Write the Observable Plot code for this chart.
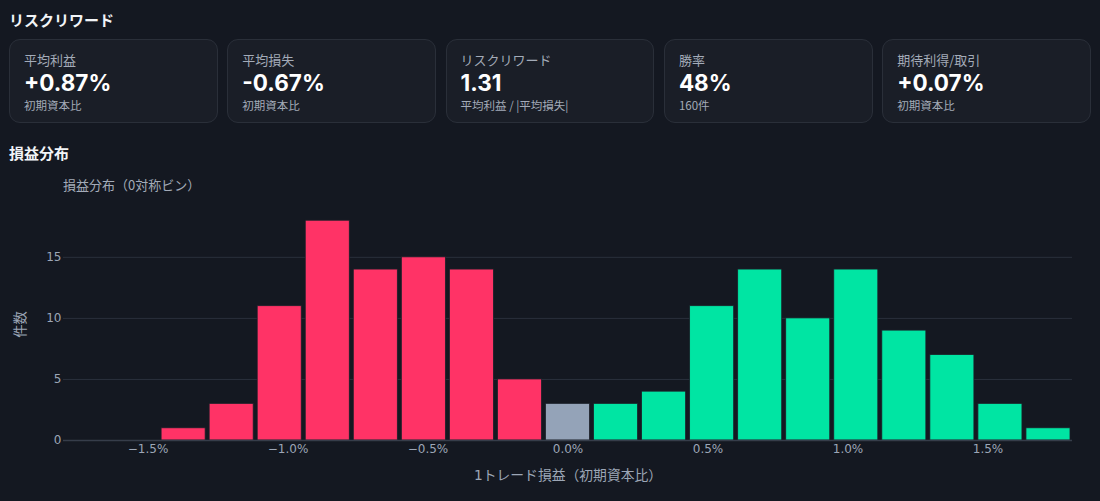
<!DOCTYPE html>
<html>
<head>
<meta charset="utf-8">
<script src="https://cdn.jsdelivr.net/npm/d3@7"></script>
<script src="https://cdn.jsdelivr.net/npm/@observablehq/plot@0.6"></script>
<style>
  html, body { margin: 0; padding: 0; background: #141821; width: 1100px; height: 501px; overflow: hidden; }
  body { font-family: Inter, "Noto Sans CJK JP", sans-serif; color: #e8ebf0; }
  .h { margin: 0; padding-left: 9px; font-size: 15px; font-weight: 700; line-height: 24px; color: #f2f4f7; font-family: "Noto Sans CJK JP", sans-serif; }
  #title { margin-top: 8px; }
  #cards { display: grid; grid-template-columns: repeat(5, 1fr); gap: 9.5px; padding: 0 9px; margin-top: 7px; }
  .card { box-sizing: border-box; height: 84px; background: #1a1e27; border: 1px solid #2a2f39; border-radius: 11px; padding: 11px 0 0 14px; }
  .lab { font-size: 13px; line-height: 18px; color: #a3abb8; font-family: "Noto Sans CJK JP", sans-serif; }
  .val { font-size: 22.5px; line-height: 28px; font-weight: 700; color: #ffffff; font-family: Inter, sans-serif; }
  .sub { font-size: 11.5px; line-height: 16px; color: #a3abb8; font-family: "Noto Sans CJK JP", sans-serif; }
  #sec { margin-top: 18px; }
  #subtitle { margin-top: 11px; padding-left: 63px; font-size: 13px; line-height: 18px; color: #a3abb8; font-family: "Noto Sans CJK JP", sans-serif; }
  #chart svg { display: block; }
</style>
</head>
<body>
<div class="h" id="title">リスクリワード</div>
<div id="cards"></div>
<div class="h" id="sec">損益分布</div>
<div id="subtitle">損益分布（0対称ビン）</div>
<div id="chart"></div>
<script>
// KPI cards
const cardLabels = ["平均利益", "平均損失", "リスクリワード", "勝率", "期待利得/取引"];
const cardValues = ["+0.87%", "-0.67%", "1.31", "48%", "+0.07%"];
const cardSubs = ["初期資本比", "初期資本比", "平均利益 / |平均損失|", "160件", "初期資本比"];

// Histogram (bins symmetric around 0, width in % of initial capital)
const binWidth = 0.1716;
const binIndex = [-8, -7, -6, -5, -4, -3, -2, -1, 0, 1, 2, 3, 4, 5, 6, 7, 8, 9, 10];
const binCounts = [1, 3, 11, 18, 14, 15, 14, 5, 3, 3, 4, 11, 14, 10, 14, 9, 7, 3, 1];
const xTicks = [-1.5, -1.0, -0.5, 0.0, 0.5, 1.0, 1.5];
const yTicks = [0, 5, 10, 15];

const cards = document.getElementById("cards");
cardLabels.forEach((l, i) => {
  const c = document.createElement("div");
  c.className = "card";
  c.innerHTML = `<div class="lab"></div><div class="val"></div><div class="sub"></div>`;
  c.querySelector(".lab").textContent = l;
  c.querySelector(".val").textContent = cardValues[i];
  c.querySelector(".sub").textContent = cardSubs[i];
  cards.appendChild(c);
});

const bins = binIndex.map((k, i) => ({
  x1: (k - 0.5) * binWidth,
  x2: (k + 0.5) * binWidth,
  count: binCounts[i],
  kind: k < 0 ? "loss" : k === 0 ? "zero" : "profit"
}));

const fmt = d => (d < 0 ? "\u2212" : "") + Math.abs(d).toFixed(1) + "%";

const chart = Plot.plot({
  width: 1100,
  height: 307,
  marginLeft: 63,
  marginRight: 28,
  marginTop: 14,
  marginBottom: 61,
  style: { background: "transparent", color: "#9ca6b6", fontSize: "12px", fontFamily: "'DejaVu Sans', 'Noto Sans CJK JP', sans-serif" },
  x: { domain: [-10.5 * binWidth, 10.5 * binWidth] },
  y: { domain: [0, 19] },
  color: { domain: ["loss", "zero", "profit"], range: ["#ff3366", "#94a3b8", "#00e5a3"] },
  marks: [
    Plot.ruleY(yTicks.filter(d => d > 0), { stroke: "#2a303c", strokeWidth: 1 }),
    Plot.rectY(bins, { x1: "x1", x2: "x2", y: "count", fill: "kind", insetLeft: 2, insetRight: 2, stroke: "#1b2029", strokeWidth: 0.8 }),
    Plot.ruleY([0], { stroke: "#363d4a", strokeWidth: 1.5 }),
    Plot.axisX({ ticks: xTicks, tickFormat: fmt, tickSize: 0, tickPadding: 4, label: "1トレード損益（初期資本比）", labelAnchor: "center", labelArrow: "none", labelOffset: 39 }),
    Plot.axisY({ ticks: yTicks, tickSize: 0, tickPadding: 2, label: "件数", labelAnchor: "center", labelArrow: "none", labelOffset: 48 })
  ]
});
d3.select(chart).selectAll('g[aria-label="x-axis label"]').attr("font-size", 13.8);
d3.select(chart).selectAll('g[aria-label="y-axis label"]').attr("font-size", 13.3);
document.getElementById("chart").appendChild(chart);
</script>
</body>
</html>
